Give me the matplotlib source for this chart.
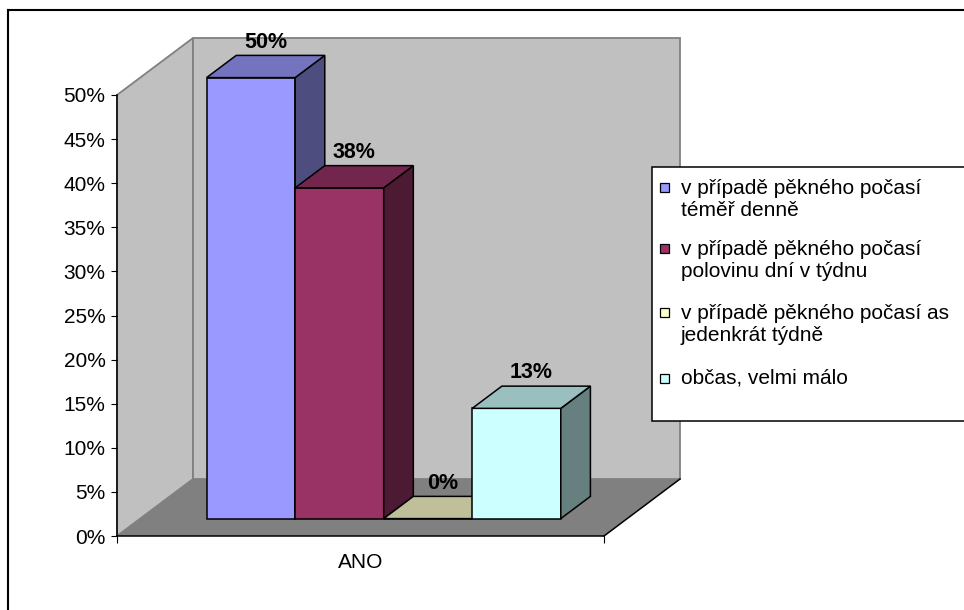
import textwrap

import numpy as np
import matplotlib
matplotlib.use("Agg")
import matplotlib.pyplot as plt
from matplotlib.patches import Polygon, Rectangle
from matplotlib.ticker import PercentFormatter
from matplotlib.colors import to_rgb

plt.rcParams['font.family'] = ['Liberation Sans', 'DejaVu Sans']

# data
category = 'ANO'
series = [
    'v případě pěkného počasí téměř denně',
    'v případě pěkného počasí polovinu dní v týdnu',
    'v případě pěkného počasí as jedenkrát týdně',
    'občas, velmi málo',
]
values = [0.50, 0.375, 0.0, 0.125]
colors = ['#9999ff', '#993366', '#ffffcc', '#ccffff']
yticks = np.arange(0, 0.501, 0.05)

W, H = 964, 610
fig = plt.figure(figsize=(W / 100, H / 100), dpi=100)
fig.patch.set_facecolor('white')

# front plane of the 3d box, in pixels
left, right, bottom, top = 117, 604, 536, 95
ax = fig.add_axes([left / W, (H - bottom) / H, (right - left) / W, (bottom - top) / H])
ax.set_xlim(0, 1)
ax.set_ylim(0, 0.5)
ax.patch.set_visible(False)

# oblique depth vector (data units)
DX = 76 / (right - left)
DY = 0.5 * 57 / (bottom - top)


def face(pts, fc, ec='black', lw=1.1, z=3):
    ax.add_patch(Polygon(pts, closed=True, facecolor=fc, edgecolor=ec,
                         linewidth=lw, zorder=z, clip_on=False,
                         joinstyle='miter'))


def shade(c, k):
    r, g, b = to_rgb(c)
    return (r * k, g * k, b * k)


# walls and floor
face([(0, 0), (DX, DY), (DX, 0.5 + DY), (0, 0.5)], '#c0c0c0', '#808080', 1.3, 1)
face([(DX, DY), (1 + DX, DY), (1 + DX, 0.5 + DY), (DX, 0.5 + DY)], '#c0c0c0', '#808080', 1.3, 1)
face([(0, 0), (1, 0), (1 + DX, DY), (DX, DY)], '#808080', 'none', 0, 1.5)
ax.plot([1, 1 + DX], [0, DY], color='black', lw=1.1, zorder=1.6, clip_on=False)

# bars
n = len(values)
w = 1 / (n + 1.5)
d0, d1 = 0.305, 0.695
ox, oy = d0 * DX, d0 * DY
bx, by = d1 * DX, d1 * DY
for i, (v, c) in enumerate(zip(values, colors)):
    x0 = 0.75 * w + i * w
    z = 3 + i
    face([(x0 + ox, oy), (x0 + w + ox, oy), (x0 + w + ox, v + oy), (x0 + ox, v + oy)], c, z=z)
    face([(x0 + w + ox, oy), (x0 + w + bx, by), (x0 + w + bx, v + by), (x0 + w + ox, v + oy)],
         shade(c, 0.5), z=z)
    face([(x0 + ox, v + oy), (x0 + w + ox, v + oy), (x0 + w + bx, v + by), (x0 + bx, v + by)],
         shade(c, 0.75), z=z)

    pct = int(v * 100 + 0.5)
    lx = x0 + w / 2 + (ox + bx) / 2
    ax.annotate(f'{pct}%', (lx, v + by), xytext=(0, 2), textcoords='offset points',
                ha='center', va='bottom', fontsize=15.5, fontweight='bold',
                annotation_clip=False, zorder=10)

# axes
for s in ('top', 'right'):
    ax.spines[s].set_visible(False)
for s in ('left', 'bottom'):
    ax.spines[s].set_color('black')
    ax.spines[s].set_linewidth(1.1)
    ax.spines[s].set_zorder(8)

ax.set_yticks(yticks)
ax.yaxis.set_major_formatter(PercentFormatter(1.0, decimals=0))
ax.tick_params(axis='y', direction='out', length=4.3, width=0.8, pad=4, labelsize=15)

ax.set_xticks([0, 1], ['', ''])
ax.set_xticks([0.5], [category], minor=True)
ax.tick_params(axis='x', which='major', direction='out', length=5, width=0.8)
ax.tick_params(axis='x', which='minor', length=0, pad=12, labelsize=15)

# overlay in pixel coordinates: chart frame and legend
ov = fig.add_axes([0, 0, 1, 1], zorder=5)
ov.set_xlim(0, W)
ov.set_ylim(H, 0)
ov.axis('off')
ov.plot([8, W + 5], [9.5, 9.5], color='black', lw=1.5)
ov.plot([8, 8], [9.5, H + 5], color='black', lw=1.5)

ov.add_patch(Rectangle((652, 167), 330, 254, facecolor='white', edgecolor='black',
                       linewidth=1.1, clip_on=False))
entry_y = [187, 248, 312, 378]
for name, c, ey in zip(series, colors, entry_y):
    ov.add_patch(Rectangle((660, ey - 4.5), 9, 9, facecolor=c, edgecolor='black',
                           linewidth=0.9))
    lines = textwrap.wrap(name, 27)
    cy = ey + 12.5 * (len(lines) - 1)
    ov.text(681, cy, '\n'.join(lines), ha='left', va='center', fontsize=15,
            linespacing=1.2)

fig.savefig('out.png', dpi=100)
